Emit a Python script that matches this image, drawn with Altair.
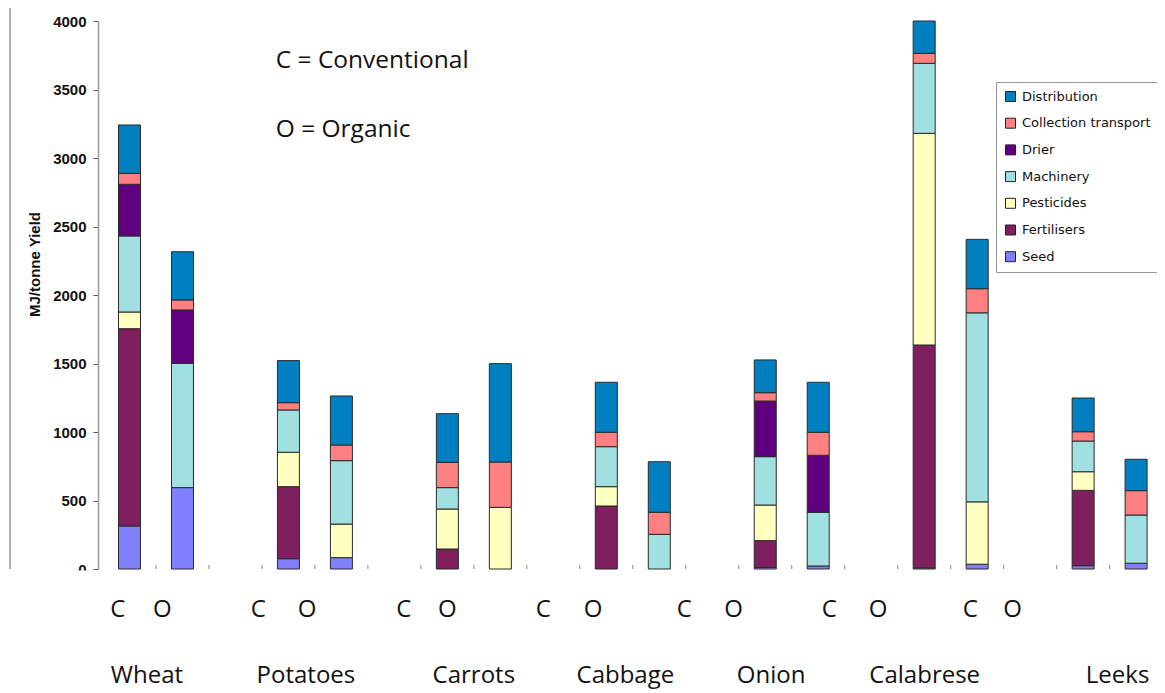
import altair as alt
import pandas as pd

# ---------------- data ----------------
crops = ["Wheat", "Potatoes", "Carrots", "Cabbage", "Onion", "Calabrese", "Leeks"]
systems = ["C", "O"]
# stacking order, bottom to top
components = ["Seed", "Fertilisers", "Pesticides", "Machinery", "Drier",
              "Collection transport", "Distribution"]
legend_order = components[::-1]
legend_colors = ["#0080C0", "#FF8080", "#600080", "#A0E0E0", "#FFFFC0", "#801F5F", "#8080FF"]

# MJ / tonne yield; order: WheatC, WheatO, PotC, PotO, CarC, CarO, CabC, CabO,
#                          OniC, OniO, CalC, CalO, LeeC, LeeO
seed         = [314, 594, 75, 83, 0, 0, 0, 0, 12, 22, 8, 35, 24, 42]
fertilisers  = [1440, 0, 526, 0, 146, 0, 460, 0, 195, 0, 1627, 0, 550, 0]
pesticides   = [122, 0, 251, 245, 292, 450, 141, 0, 260, 0, 1545, 455, 136, 0]
machinery    = [555, 907, 309, 463, 156, 0, 292, 253, 353, 392, 511, 1380, 224, 352]
drier        = [377, 390, 0, 0, 0, 0, 0, 0, 406, 416, 0, 0, 0, 0]
collection   = [80, 73, 53, 114, 185, 331, 105, 161, 61, 168, 73, 176, 68, 178]
distribution = [353, 352, 307, 358, 355, 718, 365, 369, 239, 365, 236, 360, 246, 229]

series = [seed, fertilisers, pesticides, machinery, drier, collection, distribution]

y_ticks = [0, 500, 1000, 1500, 2000, 2500, 3000, 3500, 4000]

# annotation texts (positions in bar-slot units of the x scale)
co_labels = ["C", "O"] * 7
co_pos = [-0.22, 0.62, 2.43, 3.35, 5.18, 6.0, 7.81, 8.75, 10.47, 11.40, 13.21, 14.13, 15.87, 16.67]
name_pos = [0.33, 3.33, 6.50, 9.36, 12.11, 15.01, 18.65]
note_lines = ["C = Conventional", "O = Organic"]
note_pos = 2.76

# ---------------- build table ----------------
rows = []
for k, (comp, vals) in enumerate(zip(components, series)):
    for ci, crop in enumerate(crops):
        for si, sysname in enumerate(systems):
            v = vals[2 * ci + si]
            if v > 0:
                rows.append({"crop": crop, "system": sysname, "component": comp,
                             "ord": k, "value": v, "pos": 3 * ci + si})
df = pd.DataFrame(rows)

W, H = 1059, 548
xscale = alt.Scale(domain=[-0.5, 19.3], nice=False, zero=False)

bars = alt.Chart(df).mark_bar(size=22, stroke="#2a2a2a", strokeWidth=1).encode(
    x=alt.X("pos:Q", scale=xscale, axis=None),
    y=alt.Y("value:Q", stack="zero",
            scale=alt.Scale(domain=[0, 4000], nice=False),
            axis=alt.Axis(values=y_ticks, format="d", grid=False,
                          labelFont="Liberation Sans", labelFontSize=15,
                          labelFontWeight="bold", labelColor="#111",
                          tickSize=5, tickColor="#555", labelPadding=7,
                          domainColor="#999", domainWidth=1.5,
                          title="MJ/tonne Yield", titleFont="Liberation Sans",
                          titleFontSize=15, titleFontWeight="bold", titleColor="#111",
                          titleX=-64, titleY=243, titleAngle=270,
                          titleBaseline="middle", titleAlign="center")),
    color=alt.Color("component:N",
                    scale=alt.Scale(domain=legend_order, range=legend_colors),
                    legend=alt.Legend(orient="none", legendX=898, legendY=61,
                                      title=None, symbolType="square", symbolSize=100,
                                      symbolStrokeColor="#222", symbolStrokeWidth=1,
                                      labelFont="DejaVu Sans", labelFontSize=13,
                                      labelColor="#111", labelOffset=5, labelLimit=400,
                                      rowPadding=11.7, padding=8,
                                      strokeColor="#999", fillColor="white")),
    order=alt.Order("ord:Q", sort="ascending"),
)

one = pd.DataFrame({"a": [0]})
border = alt.Chart(one).mark_rule(color="#999", strokeWidth=1.5).encode(
    x=alt.value(-88), y=alt.value(-13), y2=alt.value(H))

tick_df = pd.DataFrame({"pos": [k + 0.5 for k in range(19)]})
xticks = alt.Chart(tick_df).mark_rule(color="#888", strokeWidth=1).encode(
    x=alt.X("pos:Q", scale=xscale, axis=None), y=alt.value(H - 4), y2=alt.value(H))

cut = alt.Chart(one).mark_rect(color="white").encode(
    x=alt.value(-98), x2=alt.value(W), y=alt.value(H + 1.5), y2=alt.value(H + 40))

txt = dict(font="Open Sans", fontSize=24, color="#111", baseline="middle")

co = alt.Chart(pd.DataFrame({"label": co_labels, "pos": co_pos})).mark_text(
    align="center", **txt).encode(
    x=alt.X("pos:Q", scale=xscale, axis=None), y=alt.value(589), text="label:N")

names = alt.Chart(pd.DataFrame({"label": crops, "pos": name_pos})).mark_text(
    align="center", **txt).encode(
    x=alt.X("pos:Q", scale=xscale, axis=None), y=alt.value(655), text="label:N")

note1 = alt.Chart(pd.DataFrame({"label": [note_lines[0]], "pos": [note_pos]})).mark_text(
    align="left", font="Open Sans", fontSize=24.5, color="#111", baseline="middle").encode(
    x=alt.X("pos:Q", scale=xscale, axis=None), y=alt.value(40), text="label:N")
note2 = alt.Chart(pd.DataFrame({"label": [note_lines[1]], "pos": [note_pos]})).mark_text(
    align="left", font="Open Sans", fontSize=24.5, color="#111", baseline="middle").encode(
    x=alt.X("pos:Q", scale=xscale, axis=None), y=alt.value(109), text="label:N")

chart = alt.layer(border, xticks, bars, cut, co, names, note1, note2).properties(
    width=W, height=H,
    autosize=alt.AutoSizeParams(type="none"),
    padding={"left": 90, "top": 13, "right": 0, "bottom": 124},
    background="white",
).configure_view(stroke=None)

chart.save("out.html", embed_options={"renderer": "svg", "actions": False})
